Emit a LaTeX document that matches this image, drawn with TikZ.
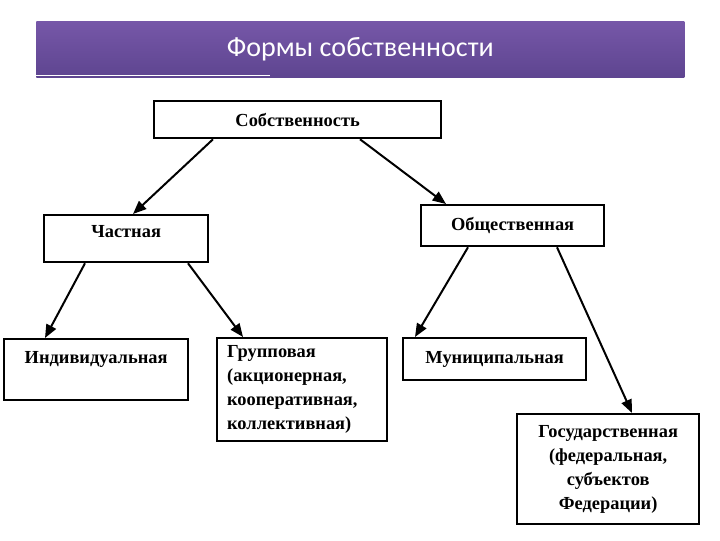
\documentclass[tikz,border=0pt]{standalone}
\usepackage{fontspec}
\setmainfont{Liberation Serif}
\newfontfamily\titlefont{Carlito}
\usepackage{tikz}
\usetikzlibrary{arrows.meta, positioning, calc}
\definecolor{formtop}{HTML}{7657A8}
\definecolor{formbottom}{HTML}{5E4590}

\begin{document}
\begin{tikzpicture}[
    x=0.75pt, y=-0.75pt,
    box/.style={
      rectangle, draw=black, line width=1.7pt, fill=white, anchor=north west,
      inner sep=0pt, align=center,
      font=\fontsize{13.8}{18}\selectfont\bfseries
    },
    arr/.style={-{Triangle[length=10pt, width=8pt]}, black, line width=1.5pt},
  ]
  \useasboundingbox (0,0) rectangle (720,540);

  % title bar
  \node[rectangle, top color=formtop, bottom color=formbottom, anchor=north west,
    minimum width=648*0.75pt, minimum height=56*0.75pt, inner sep=0pt,
    text=white, font=\titlefont\fontsize{21}{24}\selectfont] (title) at (36,21) {Формы собственности};
  \draw[white, line width=0.8pt] (title.south west) ++(0,-2) -- ++(234,0);

  % boxes
  \node[box, minimum width=287*0.75pt, minimum height=37*0.75pt] (sob) at (153,100) {Собственность};
  \node[box, minimum width=164*0.75pt, minimum height=47*0.75pt, text depth=10pt] (chast) at (43,214) {Частная};
  \node[box, minimum width=183*0.75pt, minimum height=41*0.75pt] (obsh) at (420,204) {Общественная};
  \node[box, minimum width=184*0.75pt, minimum height=61*0.75pt] (indiv) at (3,338) {Индивидуальная\\ \mbox{}};
  \node[box, minimum width=170*0.75pt, minimum height=103*0.75pt, align=left,
    text width=150*0.75pt] (grup) at (216,337) {Групповая\\(акционерная,\\кооперативная,\\коллективная)};
  \node[box, minimum width=183*0.75pt, minimum height=42*0.75pt] (mun) at (402,337) {Муниципальная};
  \node[box, minimum width=182*0.75pt, minimum height=110*0.75pt] (gos) at (516,413) {Государственная\\(федеральная,\\субъектов\\Федерации)};

  % arrows
  \draw[arr] ($(sob.south west)+(60,0)$) -- ($(chast.north west)+(90,0)$);
  \draw[arr] ($(sob.south west)+(207,0)$) -- ($(obsh.north west)+(26,0)$);
  \draw[arr] ($(chast.south west)+(42,0)$) -- ($(indiv.north west)+(42,0)$);
  \draw[arr] ($(chast.south west)+(145,0)$) -- ($(grup.north west)+(27,0)$);
  \draw[arr] ($(obsh.south west)+(48,0)$) -- ($(mun.north west)+(13,0)$);
  \draw[arr] ($(obsh.south west)+(137,0)$) -- ($(gos.north west)+(116,0)$);
\end{tikzpicture}
\end{document}
